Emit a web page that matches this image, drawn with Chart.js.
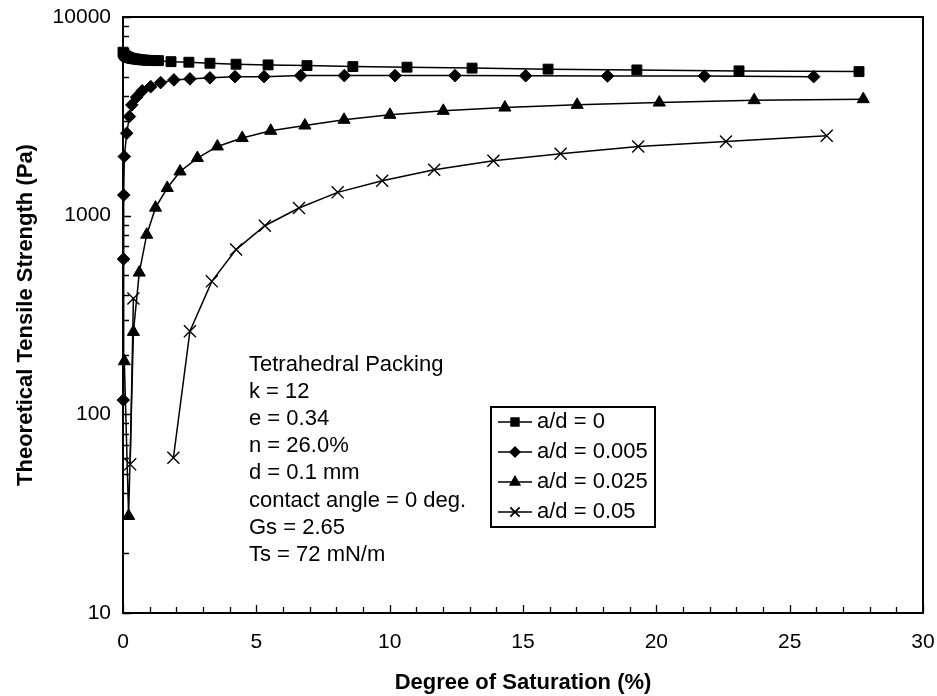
<!DOCTYPE html>
<html><head><meta charset="utf-8">
<script src="https://cdn.jsdelivr.net/npm/chart.js@4.4.1/dist/chart.umd.min.js"></script>
<style>html,body{margin:0;padding:0;background:#fff;}#wrap{width:937px;height:696px;position:relative;}</style>
</head><body><div id="wrap"><canvas id="c" width="937" height="696"></canvas></div>
<script>
// ---------- data ----------
const seriesNames = ['a/d = 0', 'a/d = 0.005', 'a/d = 0.025', 'a/d = 0.05'];

const sat0 = [0, 0.03, 0.07, 0.12, 0.18, 0.25, 0.33, 0.42, 0.52, 0.63, 0.75, 0.88, 1.02, 1.17, 1.33, 1.8, 2.47, 3.26, 4.24, 5.44, 6.9, 8.62, 10.65, 13.09, 15.94, 19.27, 23.1, 27.6];
const ts0  = [6650, 6520, 6420, 6340, 6280, 6230, 6190, 6160, 6130, 6100, 6080, 6060, 6045, 6035, 6030, 5960, 5920, 5850, 5785, 5740, 5694, 5627, 5590, 5530, 5465, 5415, 5355, 5310];

const sat1 = [0.01, 0.02, 0.03, 0.05, 0.14, 0.24, 0.33, 0.51, 0.72, 1.04, 1.41, 1.91, 2.51, 3.26, 4.2, 5.29, 6.66, 8.3, 10.2, 12.45, 15.1, 18.17, 21.8, 25.9];
const ts1  = [118, 605, 1270, 1985, 2600, 3155, 3610, 3950, 4250, 4460, 4675, 4825, 4880, 4940, 5010, 5010, 5070, 5070, 5070, 5070, 5060, 5050, 5040, 5010];

const sat2 = [0.05, 0.21, 0.39, 0.61, 0.89, 1.22, 1.66, 2.14, 2.79, 3.54, 4.47, 5.54, 6.82, 8.29, 10.01, 12.01, 14.32, 17.03, 20.11, 23.67, 27.76];
const ts2  = [185, 30.8, 260, 517, 802, 1097, 1378, 1669, 1950, 2230, 2458, 2674, 2843, 3037, 3217, 3370, 3501, 3612, 3710, 3814, 3858];

const sat3 = [0.39, 0.27, null, 1.89, 2.51, 3.33, 4.24, 5.32, 6.6, 8.05, 9.72, 11.67, 13.89, 16.41, 19.32, 22.61, 26.39];
const ts3  = [383, 56, null, 60.4, 262, 467, 675, 890, 1093, 1310, 1500, 1703, 1890, 2049, 2230, 2363, 2523];

const xTickValues = [0, 5, 10, 15, 20, 25, 30];
const xTickLabels = ['0', '5', '10', '15', '20', '25', '30'];
const yTickValues = [10, 100, 1000, 10000];
const yTickLabels = ['10', '100', '1000', '10000'];

const xTitle = 'Degree of Saturation (%)';
const yTitle = 'Theoretical Tensile Strength (Pa)';
const notes = ['Tetrahedral Packing', 'k = 12', 'e = 0.34', 'n = 26.0%', 'd = 0.1 mm', 'contact angle = 0 deg.', 'Gs = 2.65', 'Ts = 72 mN/m'];

// ---------- styling ----------
const FONT = 'Arial, "Liberation Sans", sans-serif';
const markers = [
  {pointStyle: 'rect', radius: 7, bw: 1},
  {pointStyle: 'rectRot', radius: 6.3, bw: 1},
  {pointStyle: 'triangle', radius: 7, bw: 1},
  {pointStyle: 'crossRot', radius: 8.5, bw: 1.4}
];
const satArrays = [sat0, sat1, sat2, sat3];
const tsArrays = [ts0, ts1, ts2, ts3];

function toPoints(xs, ys) {
  return xs.map((x, i) => (x === null ? {x: null, y: null} : {x: x, y: ys[i]}));
}

const datasets = seriesNames.map((name, i) => ({
  label: name,
  data: toPoints(satArrays[i], tsArrays[i]),
  showLine: true,
  spanGaps: false,
  borderColor: '#000',
  backgroundColor: '#000',
  borderWidth: 1.5,
  pointStyle: markers[i].pointStyle,
  pointRadius: markers[i].radius,
  pointHoverRadius: markers[i].radius,
  pointBorderWidth: markers[i].bw,
  pointBackgroundColor: '#000',
  pointBorderColor: '#000',
  tension: 0,
  clip: false
}));

const framePlugin = {
  id: 'frame',
  beforeDatasetsDraw(chart) {
    const {ctx, chartArea: a, scales} = chart;
    const xs = scales.x, ys = scales.y;
    ctx.save();
    ctx.strokeStyle = '#000';
    ctx.lineWidth = 2;
    ctx.strokeRect(a.left, a.top, a.right - a.left, a.bottom - a.top);
    ctx.lineWidth = 1.3;
    ctx.beginPath();
    for (let v = 0; v <= 30; v += 1) {
      const px = Math.round(xs.getPixelForValue(v)) + 0.5;
      const len = (v % 5 === 0) ? 8 : 6;
      ctx.moveTo(px, a.bottom);
      ctx.lineTo(px, a.bottom - len);
    }
    for (let d = 10; d <= 10000; d *= 10) {
      for (let m = 1; m <= 9; m++) {
        const v = m * d;
        if (v > 10000) break;
        const py = Math.round(ys.getPixelForValue(v)) + 0.5;
        const len = (m === 1) ? 8 : 6;
        ctx.moveTo(a.left, py);
        ctx.lineTo(a.left + len, py);
      }
    }
    ctx.stroke();
    ctx.restore();
  },
  afterDraw(chart) {
    const {ctx, chartArea: a} = chart;
    ctx.save();
    ctx.fillStyle = '#000';
    ctx.font = '22px ' + FONT;
    ctx.textBaseline = 'middle';
    ctx.textAlign = 'left';
    const nx = a.left + 126, ny = 365, step = 27.1;
    notes.forEach((t, i) => ctx.fillText(t, nx, ny + i * step));
    const L = {left: 491, top: 407, right: 655, bottom: 527, step: 30};
    ctx.strokeStyle = '#000';
    ctx.lineWidth = 2;
    ctx.strokeRect(L.left, L.top, L.right - L.left, L.bottom - L.top);
    chart.data.datasets.forEach((ds, i) => {
      const cy = L.top + 15 + i * L.step;
      ctx.lineWidth = 1.5;
      ctx.beginPath();
      ctx.moveTo(L.left + 7, cy);
      ctx.lineTo(L.left + 41, cy);
      ctx.stroke();
      Chart.helpers.drawPoint(ctx, {
        pointStyle: ds.pointStyle,
        radius: ds.pointRadius * 0.75,
        rotation: 0,
        borderWidth: ds.pointBorderWidth
      }, L.left + 24, cy);
      ctx.fillStyle = '#000';
      ctx.strokeStyle = '#000';
      if (ds.pointStyle === 'crossRot') { ctx.stroke(); }
      else { ctx.fill(); ctx.stroke(); }
      ctx.fillText(ds.label, L.left + 46, cy);
    });
    ctx.restore();
  }
};

Chart.defaults.font.family = FONT;
Chart.defaults.color = '#000';

new Chart(document.getElementById('c'), {
  type: 'scatter',
  data: {datasets: datasets},
  options: {
    responsive: false,
    animation: false,
    devicePixelRatio: 1,
    layout: {padding: {top: 17, right: 14, bottom: 0, left: 0}},
    plugins: {legend: {display: false}, tooltip: {enabled: false}},
    events: [],
    scales: {
      x: {
        type: 'linear', min: 0, max: 30,
        afterBuildTicks: s => { s.ticks = xTickValues.map(v => ({value: v})); },
        afterFit: s => { s.height = 83; s.paddingLeft = 0; s.paddingRight = 0; },
        ticks: {
          color: '#000', font: {family: FONT, size: 21}, padding: 17, maxRotation: 0, autoSkip: false,
          callback: v => xTickLabels[xTickValues.indexOf(v)]
        },
        grid: {display: false, drawTicks: false},
        border: {display: false},
        title: {display: true, text: xTitle, color: '#000', font: {family: FONT, size: 22, weight: 'bold'}, padding: {top: 0, bottom: 0}}
      },
      y: {
        type: 'logarithmic', min: 10, max: 10000,
        afterBuildTicks: s => { s.ticks = yTickValues.map(v => ({value: v})); },
        afterFit: s => { s.width = 123; s.paddingTop = 0; s.paddingBottom = 0; },
        ticks: {
          color: '#000', font: {family: FONT, size: 21}, padding: 12, autoSkip: false,
          callback: v => yTickLabels[yTickValues.indexOf(v)]
        },
        grid: {display: false, drawTicks: false},
        border: {display: false},
        title: {display: true, text: yTitle, color: '#000', font: {family: FONT, size: 22, weight: 'bold'}, padding: {top: 13, bottom: 0}}
      }
    }
  },
  plugins: [framePlugin]
});
</script>
</body></html>
